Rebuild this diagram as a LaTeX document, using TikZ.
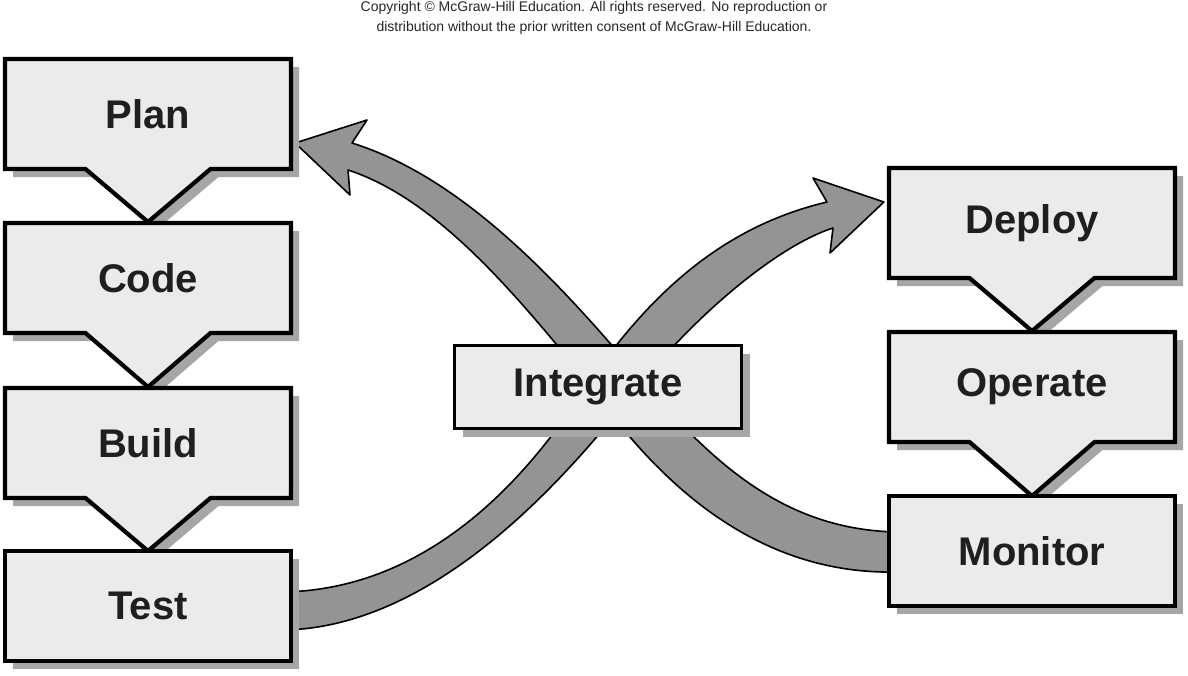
\documentclass[tikz,border=0pt]{standalone}
\usepackage{fontspec}
\setmainfont{Liberation Sans}
\usetikzlibrary{shapes.callouts,shadows,backgrounds}

\begin{document}
\begin{tikzpicture}[x=1pt,y=-1pt,
    stage/.style={draw=black, line width=3.2pt, fill=black!8, inner sep=0pt,
        minimum width=286pt, minimum height=110pt,
        font=\bfseries\fontsize{40}{40}\selectfont, text=black!88,
        drop shadow={shadow xshift=8pt, shadow yshift=-8pt, fill=black!35, opacity=1}},
    tabbox/.style={rectangle callout, callout pointer width=125pt, stage, line width=4.2pt},
    band/.style={fill=black!42, draw=black, line width=1.6pt, line join=round}]
    \useasboundingbox (0,0) rectangle (1188,675);

    % Notice on top
    \node[font=\fontsize{14}{20}\selectfont, align=center, text=black!85, inner sep=0pt, anchor=north] (notice) at (594,1)
        {Copyright © McGraw-Hill Education. All rights reserved. No reproduction or\\
         distribution without the prior written consent of McGraw-Hill Education.};

    % Left column
    \node[tabbox, callout absolute pointer={(148,222)}] (plan) at (148,114) {Plan};
    \node[tabbox, callout absolute pointer={(148,387)}] (code) at (148,278) {Code};
    \node[tabbox, callout absolute pointer={(148,551)}] (build) at (148,443) {Build};
    \node[stage] (test) at (148,606) {Test};

    % Right column
    \node[tabbox, callout absolute pointer={(1032,331)}] (deploy) at (1032,223) {Deploy};
    \node[tabbox, callout absolute pointer={(1032,496)}] (operate) at (1032,387) {Operate};
    \node[stage] (monitor) at (1032,551) {Monitor};

    % Middle
    \node[stage, minimum width=287pt, minimum height=83pt] (integrate) at (598,387) {Integrate};

    % Ends of the two bands
    \coordinate (a0) at ([xshift=-10pt,yshift=14pt]test.east);
    \coordinate (a1) at ([xshift=-10pt,yshift=-24pt]test.east);
    \coordinate (aTip) at ([xshift=-3pt,yshift=21pt]deploy.west);
    \coordinate (b0) at ([xshift=10pt,yshift=19pt]monitor.west);
    \coordinate (b1) at ([xshift=10pt,yshift=-21pt]monitor.west);
    \coordinate (bTip) at ([xshift=2pt,yshift=-29pt]plan.east);

    \begin{scope}[on background layer]
        % Monitor back to Plan
        \draw[band] (b0) .. controls (790,530) and (720,470) .. (650,390)
            .. controls (570,295) and (470,180) .. (352,143)
            -- (367,120) -- (bTip) -- (350,195) -- (348,170)
            .. controls (440,200) and (520,300) .. (590,385)
            .. controls (670,500) and (770,575) .. (b1) -- cycle;
        % Test on to Deploy
        \draw[band] (a0) .. controls (410,590) and (510,505) .. (585,388)
            .. controls (655,285) and (730,225) .. (827,202)
            -- (813,178) -- (aTip) -- (830,253) -- (833,228)
            .. controls (780,245) and (700,310) .. (637,388)
            .. controls (590,446) and (450,628) .. (a1) -- cycle;
    \end{scope}
\end{tikzpicture}
\end{document}
